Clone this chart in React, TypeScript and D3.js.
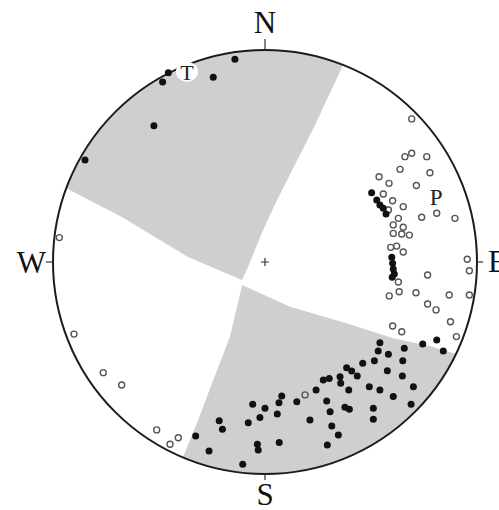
import React from 'react';
import * as d3 from 'd3';

type Pt = [number, number];

// Lower-hemisphere net coordinates, in units of the net radius: [east, north]
const solidPoints: Pt[] = [
  // NW group (T axes)
  [-0.456, 0.893], [-0.483, 0.849], [-0.244, 0.871], [-0.142, 0.956], [-0.524, 0.643], [-0.849, 0.481],
  // east chain
  [0.503, 0.327], [0.527, 0.292], [0.542, 0.269], [0.558, 0.253], [0.571, 0.226],
  [0.598, 0.022], [0.602, -0.006], [0.605, -0.033], [0.61, -0.057], [0.6, -0.072],
  // southern cluster
  [0.542, -0.381], [0.534, -0.42], [0.582, -0.435], [0.657, -0.407], [0.744, -0.387], [0.81, -0.368],
  [0.841, -0.42], [0.461, -0.478], [0.516, -0.466], [0.65, -0.466], [0.385, -0.499], [0.409, -0.514],
  [0.435, -0.538], [0.577, -0.513], [0.648, -0.538], [0.275, -0.557], [0.303, -0.549], [0.354, -0.541],
  [0.357, -0.572], [0.241, -0.604], [0.395, -0.604], [0.492, -0.588], [0.542, -0.604], [0.7, -0.588],
  [0.291, -0.656], [0.605, -0.635], [0.307, -0.706], [0.377, -0.685], [0.398, -0.695], [0.511, -0.69],
  [0.689, -0.671], [0.511, -0.742], [0.212, -0.745], [0.315, -0.774], [0.346, -0.816], [0.294, -0.863],
  [0.15, -0.659], [0.079, -0.632], [0.066, -0.664], [0.058, -0.717], [0.0, -0.69], [-0.058, -0.671],
  [-0.024, -0.734], [-0.079, -0.758], [-0.216, -0.749], [-0.201, -0.789], [-0.327, -0.821], [-0.264, -0.892],
  [-0.036, -0.86], [-0.032, -0.887], [0.067, -0.852], [-0.105, -0.954],
];

const openPoints: Pt[] = [
  // west side
  [-0.97, 0.115], [-0.901, -0.34], [-0.763, -0.522], [-0.676, -0.58], [-0.511, -0.792], [-0.409, -0.829],
  [-0.448, -0.86],
  // east cluster (P axes)
  [0.692, 0.675], [0.66, 0.497], [0.692, 0.513], [0.763, 0.497], [0.637, 0.437], [0.778, 0.421],
  [0.714, 0.361], [0.538, 0.402], [0.585, 0.371], [0.558, 0.321], [0.602, 0.289], [0.652, 0.261],
  [0.582, 0.245], [0.629, 0.206], [0.605, 0.175], [0.652, 0.164], [0.605, 0.135], [0.645, 0.132],
  [0.681, 0.127], [0.593, 0.069], [0.621, 0.075], [0.652, 0.047], [0.739, 0.211], [0.81, 0.23],
  [0.896, 0.206], [0.954, 0.013], [0.964, -0.041], [0.767, -0.061], [0.629, -0.094], [0.586, -0.16],
  [0.633, -0.14], [0.712, -0.145], [0.869, -0.156], [0.964, -0.156], [0.767, -0.198], [0.807, -0.226],
  [0.875, -0.282], [0.602, -0.302], [0.645, -0.329], [0.903, -0.352],
  // inside the southern field
  [0.189, -0.627],
];

// Shaded fields: arc along the primitive circle from arcFrom to arcTo (clockwise), then back along the edge
const nwArc: [Pt, Pt] = [[-0.939, 0.349], [0.368, 0.929]];
const nwEdge: Pt[] = [
  [0.236, 0.646], [0.057, 0.292], [-0.009, 0.151], [-0.08, -0.024], [-0.108, -0.085],
  [-0.363, 0.024], [-0.519, 0.118], [-0.675, 0.212],
];
const sArc: [Pt, Pt] = [[0.901, -0.434], [-0.387, -0.92]];
const sEdge: Pt[] = [
  [-0.315, -0.745], [-0.244, -0.557], [-0.165, -0.352], [-0.108, -0.108],
  [0.118, -0.211], [0.385, -0.289], [0.605, -0.36], [0.778, -0.396],
];

const compassLabels = ['N', 'E', 'S', 'W'];
const axisLabels: { text: string; at: Pt }[] = [
  { text: 'T', at: [-0.368, 0.893] },
  { text: 'P', at: [0.807, 0.307] },
];

const W = 499;
const H = 510;
const cx = 265;
const cy = 262;
const R = 212;

const x = d3.scaleLinear().domain([-1, 1]).range([cx - R, cx + R]);
const y = d3.scaleLinear().domain([-1, 1]).range([cy + R, cy - R]);

function fieldPath(arc: [Pt, Pt], edge: Pt[]): string {
  const a0 = Math.atan2(-arc[0][1], arc[0][0]);
  const a1 = Math.atan2(-arc[1][1], arc[1][0]);
  const p = d3.path();
  p.moveTo(cx + R * Math.cos(a0), cy + R * Math.sin(a0));
  p.arc(cx, cy, R, a0, a1, false);
  edge.forEach((e) => p.lineTo(x(e[0]), y(e[1])));
  p.closePath();
  return p.toString();
}

export default function App() {
  const font = "'Liberation Serif', 'Times New Roman', serif";
  const tickOut = { N: 11, E: 6, S: 6, W: 7 } as Record<string, number>;
  const dir: Record<string, Pt> = { N: [0, 1], E: [1, 0], S: [0, -1], W: [-1, 0] };
  return (
    <svg
      width={W}
      height={H}
      style={{ position: 'absolute', left: 0, top: 0, background: '#fff' }}
    >
      <path d={fieldPath(nwArc, nwEdge)} fill="#cfcfcf" />
      <path d={fieldPath(sArc, sEdge)} fill="#cfcfcf" />
      <circle cx={cx} cy={cy} r={R} fill="none" stroke="#1c1c1c" strokeWidth={2} />

      {compassLabels.map((c) => {
        const [dx, dy] = dir[c];
        const x0 = x(dx);
        const y0 = y(dy);
        const x1 = x0 + dx * tickOut[c];
        const y1 = y0 - dy * tickOut[c];
        return <line key={c} x1={x0} y1={y0} x2={x1} y2={y1} stroke="#333" strokeWidth={1.2} />;
      })}
      <text x={x(0)} y={33} fontFamily={font} fontSize={31} textAnchor="middle" fill="#111">N</text>
      <text x={x(0)} y={505} fontFamily={font} fontSize={31} textAnchor="middle" fill="#111">S</text>
      <text x={x(-1) - 7} y={273} fontFamily={font} fontSize={31} textAnchor="end" fill="#111">W</text>
      <text x={x(1) + 11} y={272} fontFamily={font} fontSize={31} textAnchor="start" fill="#111">E</text>

      <path d={`M${cx - 4},${cy}H${cx + 4}M${cx},${cy - 4}V${cy + 4}`} stroke="#333" strokeWidth={1.2} />

      {openPoints.map((p, i) => (
        <circle key={'o' + i} cx={x(p[0])} cy={y(p[1])} r={3} fill="none" stroke="#555" strokeWidth={1.4} />
      ))}
      {solidPoints.map((p, i) => (
        <circle key={'s' + i} cx={x(p[0])} cy={y(p[1])} r={3.5} fill="#111" />
      ))}

      {axisLabels.map((a) => (
        <g key={a.text}>
          {a.text === 'T' && <ellipse cx={x(a.at[0])} cy={y(a.at[1]) - 1} rx={11} ry={10} fill="#fff" />}
          <text
            x={x(a.at[0])}
            y={y(a.at[1]) + (a.text === 'T' ? 7 : 8)}
            fontFamily={font}
            fontSize={a.text === 'T' ? 22 : 23}
            textAnchor="middle"
            fill="#222"
          >
            {a.text}
          </text>
        </g>
      ))}
    </svg>
  );
}
